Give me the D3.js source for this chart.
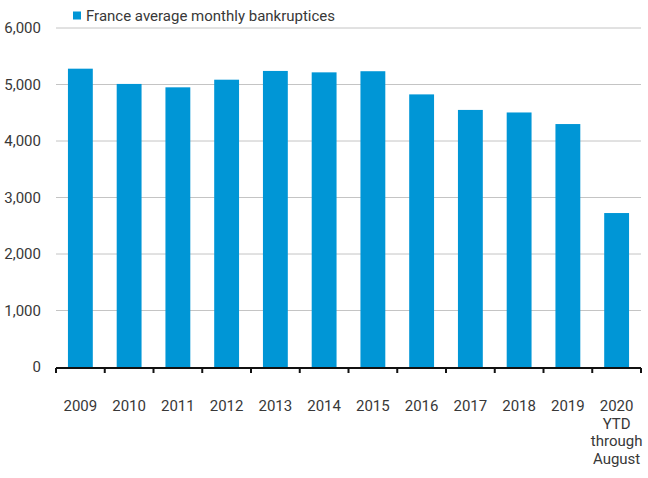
<!DOCTYPE html>
<html>
<head>
<meta charset="utf-8">
<script src="https://cdn.jsdelivr.net/npm/d3@7.9.0/dist/d3.min.js"></script>
<style>
  body { margin: 0; background: #fff; }
  svg text { font-family: Roboto, "Noto Sans", sans-serif; fill: #383838; }
</style>
</head>
<body>
<svg id="chart" width="648" height="478"></svg>
<script>
// Data
const years = ['2009', '2010', '2011', '2012', '2013', '2014', '2015', '2016', '2017', '2018', '2019', '2020'];
const bankruptcies = [5280, 5010, 4950, 5085, 5240, 5215, 5235, 4825, 4550, 4505, 4300, 2725];
const yTicks = [0, 1000, 2000, 3000, 4000, 5000, 6000];
const extraLabel = ['YTD', 'through', 'August'];
const seriesName = 'France average monthly bankruptices';

const margin = { top: 28, right: 7, bottom: 111, left: 56 };
const width = 648 - margin.left - margin.right;
const height = 478 - margin.top - margin.bottom;
const barColor = '#0096d6';
const fontSize = '15px';

const svg = d3.select('#chart');
const g = svg.append('g').attr('transform', `translate(${margin.left},${margin.top})`);

const x = d3.scaleBand().domain(years).range([0, width]).paddingInner(0.49).paddingOuter(0.245);
const y = d3.scaleLinear().domain([0, 6000]).range([height, 0]);

// Gridlines
g.selectAll('line.grid')
  .data(yTicks.filter((d) => d > 0))
  .enter()
  .append('line')
  .attr('class', 'grid')
  .attr('x1', 0)
  .attr('x2', width)
  .attr('y1', (d) => y(d))
  .attr('y2', (d) => y(d))
  .attr('stroke', '#c4c4c4')
  .attr('stroke-width', 1);

// Y labels
g.selectAll('text.ylab')
  .data(yTicks)
  .enter()
  .append('text')
  .attr('class', 'ylab')
  .attr('x', -15)
  .attr('y', (d) => y(d))
  .attr('dy', '0.35em')
  .attr('text-anchor', 'end')
  .style('font-size', fontSize)
  .text(d3.format(','));

// Bars
g.selectAll('rect.bar')
  .data(years)
  .enter()
  .append('rect')
  .attr('class', 'bar')
  .attr('x', (d) => x(d))
  .attr('width', x.bandwidth())
  .attr('y', (d, i) => y(bankruptcies[i]))
  .attr('height', (d, i) => height - y(bankruptcies[i]))
  .attr('fill', barColor);

// X axis
const xAxis = g.append('g').attr('transform', `translate(0,${height + 1})`);
xAxis.append('line')
  .attr('x1', 0).attr('x2', width)
  .attr('stroke', '#111').attr('stroke-width', 2);
const tickPos = d3.range(years.length + 1).map((i) => i * x.step());
xAxis.selectAll('line.tick')
  .data(tickPos)
  .enter()
  .append('line')
  .attr('class', 'tick')
  .attr('x1', (d) => d).attr('x2', (d) => d)
  .attr('y1', 0).attr('y2', 5)
  .attr('stroke', '#111').attr('stroke-width', 2);

const labels = xAxis.selectAll('text.xlab')
  .data(years)
  .enter()
  .append('text')
  .attr('class', 'xlab')
  .attr('x', (d) => x(d) + x.bandwidth() / 2)
  .attr('y', 43)
  .attr('text-anchor', 'middle')
  .style('font-size', fontSize);
labels.append('tspan').text((d) => d);
labels.filter((d, i) => i === years.length - 1)
  .selectAll('tspan.extra')
  .data(extraLabel)
  .enter()
  .append('tspan')
  .attr('class', 'extra')
  .attr('x', x(years[years.length - 1]) + x.bandwidth() / 2)
  .attr('dy', 17.5)
  .text((d) => d);

// Legend
const legend = svg.append('g').attr('transform', 'translate(73,11.5)');
legend.append('rect').attr('width', 8).attr('height', 8).attr('fill', barColor);
legend.append('text')
  .attr('x', 13)
  .attr('y', 4)
  .attr('dy', '0.35em')
  .style('font-size', fontSize)
  .text(seriesName);
</script>
</body>
</html>
